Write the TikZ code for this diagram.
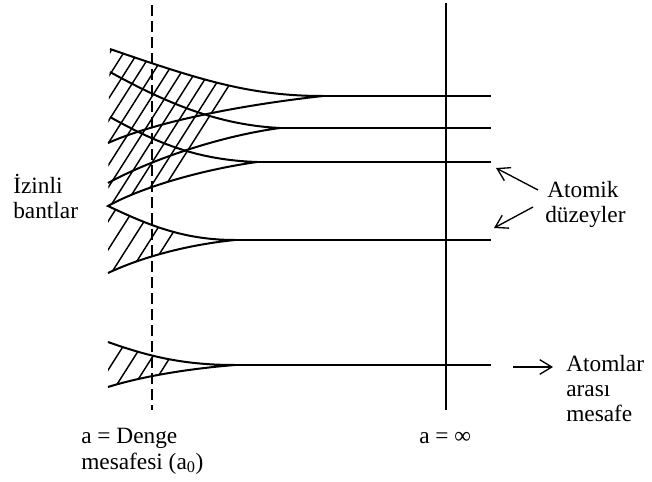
\documentclass[tikz,border=0pt]{standalone}
\usepackage{fontspec}
\setmainfont{Liberation Serif}
\usetikzlibrary{arrows.meta}
\tikzset{
  band/.style={line width=1.5pt},
  level/.style={line width=1.5pt},
  hatch/.style={line width=1.1pt},
  eqline/.style={line width=1.1pt, dash pattern=on 8.25pt off 3.75pt},
  infline/.style={line width=1.4pt},
  lbl/.style={anchor=base west, inner sep=0pt, font=\fontsize{17.5}{19}\selectfont},
  pointer/.style={line width=1pt, -{Straight Barb[length=9pt, width=11pt]}}
}
\begin{document}
\begin{tikzpicture}[x=0.75pt, y=-0.75pt]
  \useasboundingbox (0,0) rectangle (652,481);
  % band tips (atomic levels)
  \coordinate (t1) at (323,96);
  \coordinate (t2) at (280,128);
  \coordinate (t3) at (257,162);
  \coordinate (t4) at (235,240);
  \coordinate (t5) at (235,365);
  % separation lines
  \draw[eqline] (152,5) coordinate (d0) -- (152,410) coordinate (d1);
  \draw[infline] (446,3) coordinate (s0) -- (446,410) coordinate (s1);
  % hatching of the allowed bands
  \begin{scope}
    \clip (110,49) .. controls (200,80) and (250,96) .. (t1)
          .. controls (250,104) and (160,120) .. (108,143) -- cycle
          (110,72) .. controls (170,105) and (220,125) .. (t2)
          .. controls (220,136) and (150,160) .. (108,183) -- cycle
          (110,117) .. controls (160,145) and (200,160) .. (t3)
          .. controls (200,170) and (140,188) .. (108,206) -- cycle;
    \foreach \xb in {167,153,139,125,111,97,83,69,55,41,27,13}
      \draw[hatch] ({\xb-38},243) -- ({\xb+127},-17);
  \end{scope}
  \begin{scope}
    \clip (108,206) .. controls (150,226) and (185,240) .. (t4)
          .. controls (185,245) and (140,258) .. (108,273) -- cycle;
    \foreach \xb in {165,147,129,111,93}
      \draw[hatch] ({\xb-38},305) -- ({\xb+70},135);
  \end{scope}
  \begin{scope}
    \clip (108,342) .. controls (150,357) and (185,365) .. (t5)
          .. controls (185,369) and (140,377) .. (108,387) -- cycle;
    \foreach \xb in {162,144,126,108,90}
      \draw[hatch] ({\xb-38},430) -- ({\xb+70},260);
  \end{scope}
  % bands
  \draw[band] (110,49) .. controls (200,80) and (250,96) .. (t1)
              .. controls (250,104) and (160,120) .. (108,143);
  \draw[band] (110,72) .. controls (170,105) and (220,125) .. (t2)
              .. controls (220,136) and (150,160) .. (108,183);
  \draw[band] (110,117) .. controls (160,145) and (200,160) .. (t3)
              .. controls (200,170) and (140,188) .. (108,206)
              .. controls (150,226) and (185,240) .. (t4)
              .. controls (185,245) and (140,258) .. (108,273);
  \draw[band] (108,342) .. controls (150,357) and (185,365) .. (t5)
              .. controls (185,369) and (140,377) .. (108,387);
  % atomic levels
  \foreach \t in {1,...,5}
    \draw[level] (t\t) -- (t\t -| 491,0);
  % labels
  \node[lbl] (izinli) at (13,193) {İzinli};
  \node[lbl] (bantlar) at (13,218) {bantlar};
  \node[lbl] (atomik) at (547,197) {Atomik};
  \node[lbl] (duzeyler) at (545,222) {düzeyler};
  \node[lbl] (atomlar) at (566,371) {Atomlar};
  \node[lbl] (arasi) at (566,396) {arası};
  \node[lbl] (mesafe) at (566,421) {mesafe};
  \node[lbl] (denge) at (81,443) {a = Denge};
  \node[lbl] (mesafesi) at (81,469) {mesafesi (a\textsubscript{0})};
  \node[lbl] (sonsuz) at (419,443) {a = ∞};
  % pointers
  \coordinate (pa) at (496,168);
  \coordinate (pb) at (494,228);
  \coordinate (pc) at (513,367);
  \draw[pointer] ([shift={(-9,-7)}]atomik.base west) -- (pa);
  \draw[pointer] ([shift={(-12,-15)}]duzeyler.base west) -- (pb);
  \draw[pointer] (pc) -- ([shift={(-13,-4)}]atomlar.base west);
\end{tikzpicture}
\end{document}
